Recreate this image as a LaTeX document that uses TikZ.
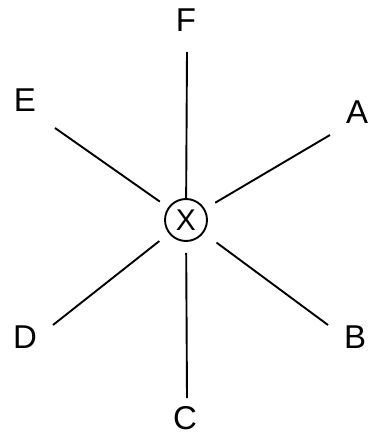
\documentclass[tikz,border=0pt]{standalone}
\usepackage{fontspec}
\setmainfont{Liberation Sans}

\begin{document}
\begin{tikzpicture}[x=1pt, y=-1pt, every node/.style={font=\fontsize{33}{36}\selectfont, inner sep=0pt}, ray/.style={line width=1.9pt, shorten <=12pt}, hub/.style={draw, circle, line width=1.9pt, minimum size=42pt, font=\fontsize{30}{32}\selectfont}]
	\useasboundingbox (0,0) rectangle (368,435);
	\node[hub] (X) at (186,220) {X};
	\node (F) at (186,20) {F};
	\node (E) at (25,100) {E};
	\node (A) at (357,112) {A};
	\node (D) at (25,337) {D};
	\node (B) at (355,337) {B};
	\node (C) at (185,418) {C};
	\coordinate (f) at (187,52);
	\coordinate (e) at (55,128);
	\coordinate (a) at (330,135);
	\coordinate (d) at (53,325);
	\coordinate (b) at (328,325);
	\coordinate (c) at (187,398);
	\draw[ray, shorten <=0pt] (X) -- (f);
	\draw[ray, shorten <=10pt] (X) -- (e);
	\draw[ray] (X) -- (a);
	\draw[ray] (X) -- (d);
	\draw[ray, shorten <=16pt] (X) -- (b);
	\draw[ray, shorten <=11pt] (X) -- (c);
\end{tikzpicture}
\end{document}
